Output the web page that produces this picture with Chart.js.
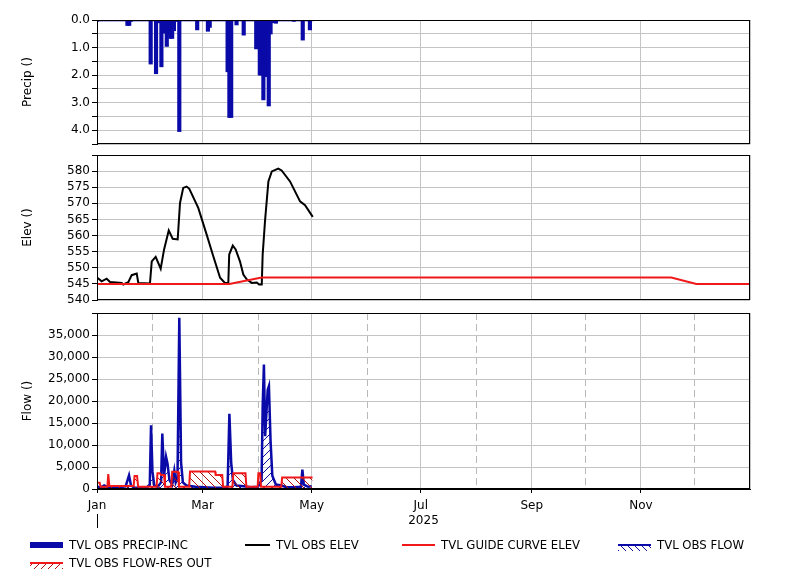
<!DOCTYPE html>
<html><head><meta charset="utf-8">
<script src="https://cdn.jsdelivr.net/npm/chart.js@4.4.1/dist/chart.umd.min.js"></script>
<style>
html,body{margin:0;padding:0;background:#fff;}
#wrap{position:relative;width:801px;height:580px;overflow:hidden;background:#fff;}
canvas{position:absolute;left:0;top:0;}
.lg{position:absolute;font:13px "DejaVu Sans Condensed","DejaVu Sans",sans-serif;color:#000;white-space:nowrap;line-height:14px;}
.sym{position:absolute;}
</style></head><body>
<div id="wrap">
<canvas id="c1" width="801" height="580"></canvas>
<canvas id="c2" width="801" height="580"></canvas>
<canvas id="c3" width="801" height="580"></canvas>
<div id="legend"></div>
</div>
<script>
// ---- axis / tick data ----
const monthStarts = [0,31,59,90,120,151,181,212,243,273,304,334,365];
const monthLabels = ['Jan','Feb','Mar','Apr','May','Jun','Jul','Aug','Sep','Oct','Nov','Dec',''];
const yearLabel = '2025';
const axisTitles = ['Precip ()','Elev ()','Flow ()'];

// ---- series data (x = day of year 2025, 0 = Jan 1) ----
const precipDays = [0,1,2,3,4,5,6,7,8,9,10,11,12,13,14,15,16,17,18,19,20,21,22,23,24,25,26,27,28,29,
 30,31,32,33,34,35,36,37,38,39,40,41,42,43,44,45,46,47,48,49,50,51,52,53,54,55,56,57,58,59,
 60,61,62,63,64,65,66,67,68,69,70,71,72,73,74,75,76,77,78,79,80,81,82,83,84,85,86,87,88,89,
 90,91,92,93,94,95,96,97,98,99,100,101,102,103,104,105,106,107,108,109,110,111,112,113,114,115,116,117,118,119,120];
const precipValues = [0.05,0.03,0.03,0.03,0.03,0.03,0.03,0.03,0.03,0.03,0.03,0.03,0.03,0.03,0.03,0.03,0.03,0.2,0.2,0.05,0.03,0.03,0.03,0.03,0.03,0.03,0.03,0.03,0.03,0.03,
 1.6,0.03,0.03,1.95,0.1,0.1,1.7,0.47,0.47,0.96,0.5,0.67,0.67,0.39,0.05,0.05,4.05,0.03,0.03,0.03,0.03,0.03,0.03,0.03,0.03,0.03,0.36,0.03,0.03,0.03,
 0.03,0.03,0.41,0.27,0.03,0.03,0.03,0.03,0.03,0.03,0.03,0.03,0.03,1.88,3.54,3.54,0.03,0.03,0.18,0.03,0.03,0.03,0.55,0.03,0.03,0.03,0.03,0.03,0.03,1.05,
 0.03,2.0,2.0,2.9,2.05,2.05,3.12,0.51,0.1,0.03,0.12,0.03,0.03,0.03,0.03,0.03,0.03,0.03,0.03,0.03,0.05,0.03,0.03,0.03,0.03,0.73,0.03,0.03,0.03,0.36,0.03];

const elevDays = [0.2,2.6,5.4,7.3,13.8,14.7,17.5,19.4,22.2,23.1,29.6,30.6,32.8,35.6,37.5,40.1,42.3,45.1,46.4,48.2,
 50.1,51.6,56.6,61.3,65,68.8,71.5,73.4,73.9,75.9,77.5,79.9,81.8,83.7,86.5,89.3,90.6,92.1,92.6,93.9,
 95.8,97.7,101.3,103.2,107.9,113.5,116.3,120.6];
const elevValues = [546.9,545.8,546.6,545.6,545.3,544.8,545.5,547.7,548.2,545.3,545.1,552.0,553.4,549.7,555.7,561.6,559.0,558.8,570.1,574.8,
 575.2,574.5,568.6,560.3,553.6,546.9,545.3,545.3,554.1,556.9,555.7,552.0,547.9,546.4,545.3,545.4,544.8,544.8,554.1,564.4,
 576.8,579.9,580.8,580.2,576.8,570.6,569.4,565.8];

const guideDays = [0,74,92,321,335,365];
const guideValues = [545,545,547,547,545,545];

const flowDays = [0,2,4,6,8,12,16,17.9,19,21,25,28,29.5,30.2,31,32,34,35.8,36.5,37.5,
 38.6,39.4,40.5,42,43.2,44,45,46,47,48,50,55,60,65,70,73,74,75,76,78,
 82,86,90,92,92.6,93.3,94,95.4,96.1,97,98,100,103,106,110,114,114.8,115.6,118,120];
const flowValues = [600,300,800,400,300,400,600,3100,800,300,300,400,1000,14500,4000,800,500,1500,12600,3000,
 7300,5800,2000,1000,4100,1500,2500,38900,6000,1500,800,500,400,300,300,500,17100,6000,2000,800,
 600,400,500,2000,18700,28300,12000,22500,23400,11000,3000,1000,800,400,400,500,4400,1000,500,600];

const outDays = [0,1.5,2,5.8,6.3,6.9,20.5,21,22.4,23,33.3,33.8,35.2,35.7,37.5,38,41.5,42,45.3,45.8,
 51.5,52,66,66.3,70,70.5,75.7,76.2,83,83.5,89.8,90.2,91.2,91.7,103,103.5,120.5];
const outValues = [1400,1400,500,500,3400,700,700,2950,2950,500,500,3560,3560,3200,3200,500,500,3940,3940,500,
 500,4000,4000,3200,3200,500,500,3560,3560,500,500,3560,3560,500,500,2600,2600];

const seriesNames = ['TVL OBS PRECIP-INC','TVL OBS ELEV','TVL GUIDE CURVE ELEV','TVL OBS FLOW','TVL OBS FLOW-RES OUT'];

// ---- styling ----
const BLUE = '#0a0aa8', RED = '#f01818', BLACK = '#000';
const GRID = '#c4c4c4';
const FONT = '"DejaVu Sans", sans-serif';
const zip = (xs, ys) => xs.map((x, i) => ({x, y: ys[i]}));

function hatch(color, dir) {
  const c = document.createElement('canvas'); c.width = 8; c.height = 8;
  const g = c.getContext('2d'); g.strokeStyle = color; g.lineWidth = 1; g.beginPath();
  if (dir > 0) { g.moveTo(0,8); g.lineTo(8,0); g.moveTo(-1,1); g.lineTo(1,-1); g.moveTo(7,9); g.lineTo(9,7); }
  else { g.moveTo(0,0); g.lineTo(8,8); g.moveTo(-1,7); g.lineTo(1,9); g.moveTo(7,-1); g.lineTo(9,1); }
  g.stroke();
  return document.getElementById('c3').getContext('2d').createPattern(c, 'repeat');
}

const framePlugin = {
  id: 'frame',
  afterDraw(chart, args, opts) {
    const {ctx, chartArea: a} = chart;
    ctx.save(); ctx.strokeStyle = '#000'; ctx.lineWidth = 1;
    ctx.strokeRect(Math.round(a.left) + 0.5, Math.round(a.top) + 0.5, Math.round(a.right - a.left) - 1, Math.round(a.bottom - a.top) - 1);
    if (opts && opts.yearMark) {
      const x = Math.round(a.left) + 0.5;
      ctx.beginPath(); ctx.moveTo(x, a.bottom + 25); ctx.lineTo(x, a.bottom + 39); ctx.stroke();
    }
    ctx.restore();
  }
};

function xAxis(showLabels, dashedMinor) {
  return {
    type: 'linear', min: 0, max: 365, offset: false,
    afterBuildTicks: s => { s.ticks = monthStarts.map(v => ({value: v})); },
    afterFit: s => { s.height = showLabels ? 40 : 0; },
    ticks: {
      display: showLabels, autoSkip: false, maxRotation: 0, padding: 6,
      color: '#000', font: {family: FONT, size: 12},
      callback: (v, i) => (i % 2 === 0 ? monthLabels[i] : '')
    },
    grid: {
      offset: false,
      drawTicks: showLabels, tickLength: 4,
      tickColor: ctx => (ctx.index % 2 === 0 && ctx.index < 12 ? '#000' : 'rgba(0,0,0,0)'),
      color: ctx => (ctx.index % 2 === 0 ? GRID : (dashedMinor ? '#b8b8b8' : 'rgba(0,0,0,0)'))
    },
    border: {
      display: showLabels, color: '#000',
      dash: ctx => (ctx.index !== undefined && ctx.index % 2 === 1 && dashedMinor ? [7, 4] : [])
    },
    title: {display: showLabels, text: yearLabel, color: '#000', font: {family: FONT, size: 12}, padding: {top: 0, bottom: 1}}
  };
}

function yAxis(title, min, max, step, fmt, reverse) {
  return {
    type: 'linear', min, max, reverse: !!reverse,
    afterFit: s => { s.width = 97; },
    ticks: {stepSize: step, autoSkip: false, color: '#000', font: {family: FONT, size: 12}, padding: 2, callback: fmt},
    grid: {color: GRID, tickColor: '#000', tickLength: 5},
    border: {display: true, color: '#000'},
    title: {display: true, text: title, color: '#000', font: {family: FONT, size: 12}, padding: {top: 21, bottom: 0}}
  };
}

const common = {
  responsive: false, animation: false, events: [],
  plugins: {legend: {display: false}, tooltip: {enabled: false}}
};

// ---- Chart 1: precipitation ----
new Chart(document.getElementById('c1'), {
  type: 'bar',
  data: {datasets: [{label: seriesNames[0], data: zip(precipDays, precipValues),
    backgroundColor: BLUE, borderWidth: 0, barThickness: 3.5}]},
  options: Object.assign({}, common, {
    layout: {padding: {left: 0, right: 51, top: 20, bottom: 436}},
    plugins: Object.assign({}, common.plugins, {frame: {}}),
    scales: {
      x: xAxis(false, false),
      y: yAxis(axisTitles[0], 0, 4.5, 0.5, v => (Math.abs(v - Math.round(v)) < 1e-6 ? Number(v).toFixed(1) : ''), true)
    }
  }),
  plugins: [framePlugin]
});

// ---- Chart 2: elevation ----
new Chart(document.getElementById('c2'), {
  type: 'line',
  data: {datasets: [
    {label: seriesNames[2], data: zip(guideDays, guideValues), borderColor: RED, borderWidth: 2, pointRadius: 0, tension: 0},
    {label: seriesNames[1], data: zip(elevDays, elevValues), borderColor: BLACK, borderWidth: 2, pointRadius: 0, tension: 0}
  ]},
  options: Object.assign({}, common, {
    layout: {padding: {left: 0, right: 51, top: 155, bottom: 280}},
    plugins: Object.assign({}, common.plugins, {frame: {}}),
    scales: {
      x: xAxis(false, false),
      y: yAxis(axisTitles[1], 540, 585, 5, v => (v >= 585 ? '' : String(v)))
    }
  }),
  plugins: [framePlugin]
});

// ---- Chart 3: flow ----
new Chart(document.getElementById('c3'), {
  type: 'line',
  data: {datasets: [
    {label: seriesNames[4], data: zip(outDays, outValues), borderColor: RED, borderWidth: 2, pointRadius: 0, tension: 0,
      fill: 'origin', backgroundColor: hatch('#b01010', -1)},
    {label: seriesNames[3], data: zip(flowDays, flowValues), borderColor: BLUE, borderWidth: 2.5, pointRadius: 0, tension: 0,
      fill: 'origin', backgroundColor: hatch('#1010a0', 1)}
  ]},
  options: Object.assign({}, common, {
    layout: {padding: {left: 0, right: 51, top: 313, bottom: 51}},
    plugins: Object.assign({}, common.plugins, {frame: {yearMark: true}}),
    scales: {
      x: xAxis(true, true),
      y: yAxis(axisTitles[2], 0, 40000, 5000, v => (v >= 40000 ? '' : v.toLocaleString('en-US')))
    }
  }),
  plugins: [framePlugin]
});

// ---- legend (HTML text) ----
const legendPos = [[30, 545], [245, 545], [402, 545], [618, 545], [30, 563]];
const legendKinds = ['bar', 'black', 'red', 'blueHatch', 'redHatch'];
const lg = document.getElementById('legend');
seriesNames.forEach((name, i) => {
  const [x, y] = legendPos[i];
  const w = (i === 1) ? 25 : 33;
  const s = document.createElement('div'); s.className = 'sym';
  const k = legendKinds[i];
  if (k === 'bar') { Object.assign(s.style, {left: x + 'px', top: (y - 3) + 'px', width: w + 'px', height: '6px', background: BLUE}); }
  else if (k === 'black' || k === 'red') { Object.assign(s.style, {left: x + 'px', top: (y - 1) + 'px', width: w + 'px', height: '2px', background: k === 'black' ? BLACK : RED}); }
  else {
    const col = k === 'blueHatch' ? BLUE : RED;
    const hc = k === 'blueHatch' ? '#1010a0' : '#b01010';
    const ang = k === 'blueHatch' ? '45deg' : '-45deg';
    Object.assign(s.style, {left: x + 'px', top: (y - 1) + 'px', width: w + 'px', height: '5px',
      borderTop: '2px solid ' + col,
      background: `repeating-linear-gradient(${ang}, ${hc} 0px, ${hc} 1px, transparent 1px, transparent 5px)`});
  }
  lg.appendChild(s);
  const t = document.createElement('div'); t.className = 'lg';
  t.style.left = (x + w + 6) + 'px'; t.style.top = (y - 7) + 'px';
  t.textContent = name;
  lg.appendChild(t);
});
</script>
</body></html>
